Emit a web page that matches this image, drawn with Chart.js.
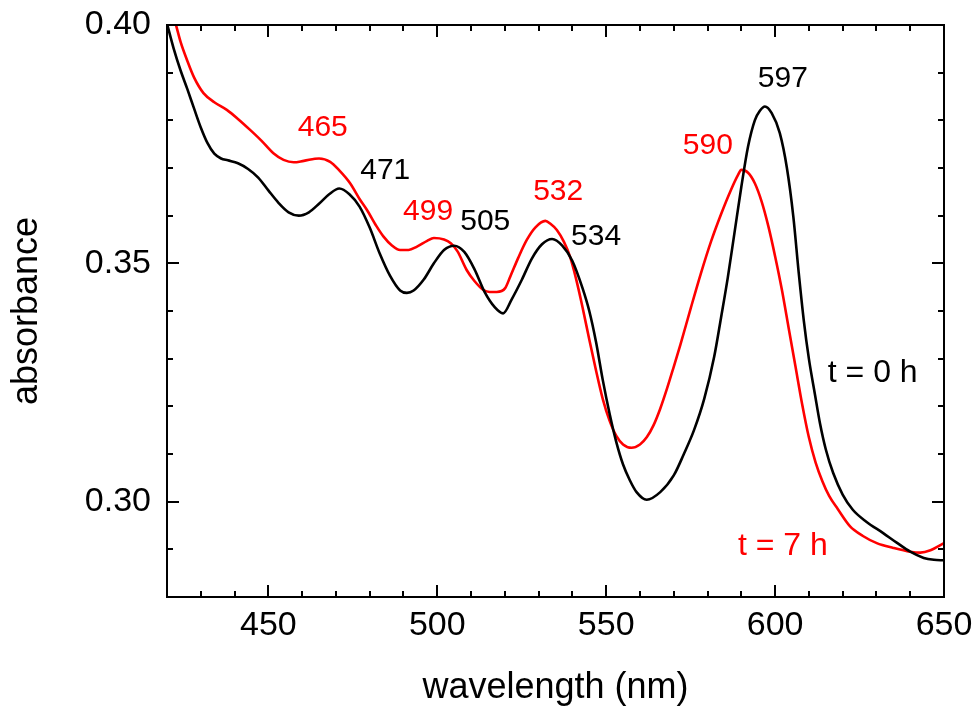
<!DOCTYPE html>
<html>
<head>
<meta charset="utf-8">
<title>absorbance spectra</title>
<script src="https://cdn.jsdelivr.net/npm/chart.js@4/dist/chart.umd.min.js"></script>
<style>
  html, body { margin: 0; padding: 0; background: #fff; }
  canvas { display: block; }
</style>
</head>
<body>
<canvas id="spectrum" width="980" height="713"></canvas>
<script>
// t = 0 h spectrum
const wl0 = [420, 422, 424, 426, 428, 430, 432, 434, 436, 438, 441, 444, 447, 450, 453, 456, 459, 462, 465, 468, 471, 474, 477, 480, 483, 486, 489, 491, 493, 496, 499, 502, 505, 508, 511, 514, 517, 519.5, 522, 525, 528, 531, 534, 537, 540, 543, 545, 547, 549, 551, 553, 555, 557, 559, 562, 566, 570, 573, 576, 579, 582, 584, 586, 588, 590, 592, 594, 595.5, 597, 599, 601.4, 603.5, 605.4, 607, 608.5, 610, 611.8, 613.3, 615, 617.2, 620, 623, 627, 632, 636, 640, 644, 647, 650];
const abs0 = [0.4003, 0.3950, 0.3905, 0.3866, 0.3825, 0.3785, 0.3752, 0.3730, 0.3720, 0.3716, 0.3710, 0.3698, 0.3680, 0.3653, 0.3627, 0.3607, 0.3600, 0.3607, 0.3625, 0.3645, 0.3657, 0.3645, 0.3619, 0.3575, 0.3520, 0.3474, 0.3443, 0.3438, 0.3443, 0.3466, 0.3500, 0.3528, 0.3537, 0.3524, 0.3488, 0.3440, 0.3408, 0.3395, 0.3424, 0.3465, 0.3510, 0.3540, 0.3551, 0.3537, 0.3505, 0.3448, 0.3400, 0.3335, 0.3255, 0.3185, 0.3125, 0.3078, 0.3045, 0.3020, 0.3004, 0.3020, 0.3055, 0.3100, 0.3150, 0.3215, 0.3305, 0.3386, 0.3470, 0.3565, 0.3660, 0.3745, 0.3800, 0.3820, 0.3829, 0.3815, 0.3773, 0.3700, 0.3598, 0.3480, 0.3380, 0.3300, 0.3225, 0.3164, 0.3110, 0.3060, 0.3015, 0.2983, 0.2958, 0.2934, 0.2914, 0.2895, 0.2882, 0.2878, 0.2877];

// t = 7 h spectrum
const wl7 = [420, 422.5, 424, 426, 428, 430.8, 434, 437.7, 441, 444.6, 448, 451.5, 454.5, 457.5, 460.5, 465, 468.3, 471, 474.2, 477, 479.2, 482, 484.1, 486.5, 489, 491.5, 494, 497, 499, 502, 504, 506, 508.7, 511, 513.7, 515.5, 517.6, 520.1, 521.6, 524, 526.5, 529, 532, 533.5, 535.4, 537.5, 539.3, 541, 543, 545, 547, 549, 551, 553, 555, 557.5, 560, 562, 564, 566, 568, 570, 572, 575, 578, 581, 584, 587, 589, 590, 592, 594, 596, 598, 600, 602, 604, 606, 608, 610, 612, 614, 616, 618.5, 622.2, 626, 630.1, 635, 640, 643, 646, 650];
const abs7 = [0.4060, 0.4004, 0.3965, 0.3925, 0.3890, 0.3857, 0.3838, 0.3822, 0.3803, 0.3780, 0.3757, 0.3731, 0.3717, 0.3712, 0.3715, 0.3720, 0.3713, 0.3695, 0.3668, 0.3635, 0.3612, 0.3578, 0.3556, 0.3538, 0.3528, 0.3528, 0.3535, 0.3547, 0.3553, 0.3550, 0.3542, 0.3525, 0.3486, 0.3463, 0.3444, 0.3440, 0.3440, 0.3448, 0.3472, 0.3512, 0.3549, 0.3575, 0.3589, 0.3583, 0.3570, 0.3545, 0.3514, 0.3470, 0.3408, 0.3340, 0.3275, 0.3215, 0.3170, 0.3138, 0.3120, 0.3113, 0.3120, 0.3135, 0.3160, 0.3195, 0.3237, 0.3283, 0.3330, 0.3405, 0.3478, 0.3545, 0.3603, 0.3655, 0.3685, 0.3696, 0.3690, 0.3668, 0.3630, 0.3578, 0.3515, 0.3445, 0.3365, 0.3285, 0.3205, 0.3135, 0.3082, 0.3043, 0.3012, 0.2985, 0.2948, 0.2928, 0.2913, 0.2903, 0.2895, 0.2893, 0.2898, 0.2913];

// peak labels and curve names, anchored in data units
const notes = [
  { text: '465', nm: 466.1, a: 0.3784, color: '#ff0000', size: 30 },
  { text: '471', nm: 484.6, a: 0.3694, color: '#000000', size: 30 },
  { text: '499', nm: 497.3, a: 0.3608, color: '#ff0000', size: 30 },
  { text: '505', nm: 514.2, a: 0.3588, color: '#000000', size: 30 },
  { text: '532', nm: 535.8, a: 0.3650, color: '#ff0000', size: 30 },
  { text: '534', nm: 547.0, a: 0.3556, color: '#000000', size: 30 },
  { text: '590', nm: 580.1, a: 0.3747, color: '#ff0000', size: 30 },
  { text: '597', nm: 602.3, a: 0.3888, color: '#000000', size: 30 },
  { text: 't = 0 h', nm: 628.9, a: 0.3270, color: '#000000', size: 32 },
  { text: 't = 7 h', nm: 602.3, a: 0.2906, color: '#ff0000', size: 32 }
];

const FONT = '"Liberation Sans", Arial, Helvetica, sans-serif';

const toPoints = (xs, ys) => xs.map((x, i) => ({ x, y: ys[i] }));

// closed frame with inward ticks on all four sides
const frameTicks = {
  id: 'frameTicks',
  afterDatasetsDraw(chart) {
    const { ctx, chartArea: a, scales: { x, y } } = chart;
    ctx.save();
    ctx.strokeStyle = '#000';
    ctx.lineWidth = 2;
    ctx.beginPath();
    x.ticks.forEach(t => {
      const px = Math.round(x.getPixelForValue(t.value));
      const len = Math.round(t.value) % 50 === 0 ? 12 : 6;
      ctx.moveTo(px, a.bottom); ctx.lineTo(px, a.bottom - len);
      ctx.moveTo(px, a.top); ctx.lineTo(px, a.top + len);
    });
    y.ticks.forEach(t => {
      const py = Math.round(y.getPixelForValue(t.value));
      const len = Math.round(t.value * 100) % 5 === 0 ? 12 : 6;
      ctx.moveTo(a.left, py); ctx.lineTo(a.left + len, py);
      ctx.moveTo(a.right, py); ctx.lineTo(a.right - len, py);
    });
    ctx.stroke();
    ctx.strokeRect(a.left, a.top, a.right - a.left, a.bottom - a.top);
    ctx.restore();
  }
};

const peakNotes = {
  id: 'peakNotes',
  afterDraw(chart) {
    const { ctx, scales: { x, y } } = chart;
    ctx.save();
    ctx.textAlign = 'center';
    ctx.textBaseline = 'middle';
    notes.forEach(n => {
      ctx.font = `${n.size}px ${FONT}`;
      ctx.fillStyle = n.color;
      ctx.fillText(n.text, x.getPixelForValue(n.nm), y.getPixelForValue(n.a));
    });
    ctx.restore();
  }
};

new Chart(document.getElementById('spectrum'), {
  type: 'line',
  data: {
    datasets: [
      {
        label: 't = 0 h',
        data: toPoints(wl0, abs0),
        borderColor: '#000000',
        borderWidth: 2.6,
        pointRadius: 0,
        cubicInterpolationMode: 'monotone',
        fill: false
      },
      {
        label: 't = 7 h',
        data: toPoints(wl7, abs7),
        borderColor: '#ff0000',
        borderWidth: 2.6,
        pointRadius: 0,
        cubicInterpolationMode: 'monotone',
        fill: false
      }
    ]
  },
  options: {
    responsive: false,
    animation: false,
    devicePixelRatio: 1,
    layout: { padding: { top: 25, right: 36, left: 0, bottom: 0 } },
    plugins: {
      legend: { display: false },
      tooltip: { enabled: false }
    },
    scales: {
      x: {
        type: 'linear',
        min: 420,
        max: 650,
        afterFit: s => { s.height = 116; s.paddingLeft = 0; s.paddingRight = 0; },
        grid: { display: false, drawTicks: false },
        border: { display: false },
        ticks: {
          stepSize: 10,
          autoSkip: false,
          maxRotation: 0,
          padding: 8,
          color: '#000',
          font: { family: FONT, size: 34 },
          callback: v => (Math.round(v) % 50 === 0 ? String(v) : '')
        },
        title: {
          display: true,
          text: 'wavelength (nm)',
          color: '#000',
          font: { family: FONT, size: 36 },
          padding: { top: 0, bottom: 3 }
        }
      },
      y: {
        min: 0.28,
        max: 0.40,
        afterFit: s => { s.width = 167; s.paddingTop = 0; s.paddingBottom = 0; },
        grid: { display: false, drawTicks: false },
        border: { display: false },
        ticks: {
          stepSize: 0.01,
          autoSkip: false,
          padding: 16,
          color: '#000',
          font: { family: FONT, size: 34 },
          callback: v => (Math.round(v * 100) % 5 === 0 ? v.toFixed(2) : '')
        },
        title: {
          display: true,
          text: 'absorbance',
          color: '#000',
          font: { family: FONT, size: 36 },
          padding: { top: 5, bottom: 0 }
        }
      }
    }
  },
  plugins: [frameTicks, peakNotes]
});
</script>
</body>
</html>
